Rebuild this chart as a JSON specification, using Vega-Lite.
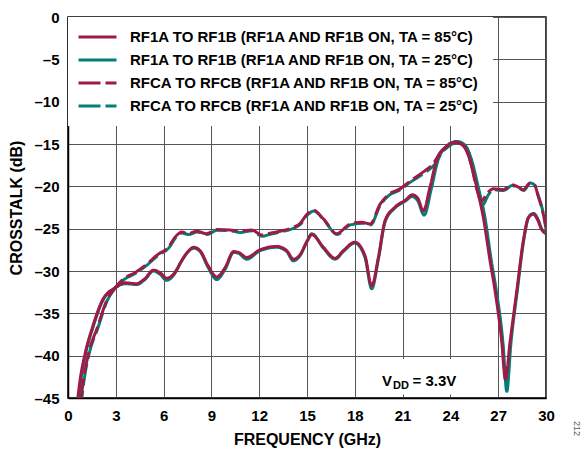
{
  "$schema": "https://vega.github.io/schema/vega-lite/v6.json",
  "width": 478,
  "height": 381,
  "autosize": {"type": "none"},
  "padding": {"left": 68, "top": 17, "right": 38, "bottom": 52},
  "background": "white",
  "config": {
    "font": "Liberation Sans",
    "view": {"stroke": "black", "strokeWidth": 1.5},
    "axis": {
      "labelFont": "Liberation Sans",
      "labelFontSize": 15,
      "labelFontWeight": "bold",
      "labelColor": "black",
      "titleFont": "Liberation Sans",
      "titleFontSize": 16,
      "titleFontWeight": "bold",
      "titleColor": "black",
      "domainColor": "black",
      "domainWidth": 1.5,
      "gridColor": "#555555",
      "gridWidth": 1,
      "gridOpacity": 1,
      "ticks": false
    }
  },
  "title": {"text": "212", "orient": "right", "anchor": "end", "frame": "group", "fontSize": 9, "fontWeight": "normal", "color": "#555555", "offset": 18, "dx": 38},
  "data": {
    "values": [
      {"s": "A", "f": 0.6, "d": -45.3}, {"s": "A", "f": 0.75, "d": -43.0}, {"s": "A", "f": 1.07, "d": -39.8}, {"s": "A", "f": 1.53, "d": -36.7}, {"s": "A", "f": 2.15, "d": -33.5}, {"s": "A", "f": 2.95, "d": -32.0}, {"s": "A", "f": 3.58, "d": -31.4}, {"s": "A", "f": 4.3, "d": -31.5}, {"s": "A", "f": 4.83, "d": -30.9}, {"s": "A", "f": 5.36, "d": -29.9}, {"s": "A", "f": 5.78, "d": -30.2}, {"s": "A", "f": 6.19, "d": -30.85}, {"s": "A", "f": 6.7, "d": -30.2}, {"s": "A", "f": 7.1, "d": -28.9}, {"s": "A", "f": 7.45, "d": -27.9}, {"s": "A", "f": 7.9, "d": -27.2}, {"s": "A", "f": 8.29, "d": -27.6}, {"s": "A", "f": 8.8, "d": -29.4}, {"s": "A", "f": 9.33, "d": -30.7}, {"s": "A", "f": 9.86, "d": -29.6}, {"s": "A", "f": 10.4, "d": -27.7}, {"s": "A", "f": 10.7, "d": -27.8}, {"s": "A", "f": 11.22, "d": -28.4}, {"s": "A", "f": 12.05, "d": -27.5}, {"s": "A", "f": 13.1, "d": -27.1}, {"s": "A", "f": 13.73, "d": -27.6}, {"s": "A", "f": 14.14, "d": -28.6}, {"s": "A", "f": 14.56, "d": -28.1}, {"s": "A", "f": 15.0, "d": -26.5}, {"s": "A", "f": 15.3, "d": -25.7}, {"s": "A", "f": 16.03, "d": -27.2}, {"s": "A", "f": 16.76, "d": -28.5}, {"s": "A", "f": 17.28, "d": -27.6}, {"s": "A", "f": 18.0, "d": -26.6}, {"s": "A", "f": 18.64, "d": -28.2}, {"s": "A", "f": 19.06, "d": -31.75}, {"s": "A", "f": 19.48, "d": -28.4}, {"s": "A", "f": 19.9, "d": -24.05}, {"s": "A", "f": 20.5, "d": -22.5}, {"s": "A", "f": 21.2, "d": -21.6}, {"s": "A", "f": 21.6, "d": -21.0}, {"s": "A", "f": 21.95, "d": -21.4}, {"s": "A", "f": 22.3, "d": -22.9}, {"s": "A", "f": 22.72, "d": -20.1}, {"s": "A", "f": 23.14, "d": -16.9}, {"s": "A", "f": 23.67, "d": -15.4}, {"s": "A", "f": 24.3, "d": -14.8}, {"s": "A", "f": 24.8, "d": -15.2}, {"s": "A", "f": 25.23, "d": -16.9}, {"s": "A", "f": 25.65, "d": -20.1}, {"s": "A", "f": 26.07, "d": -23.7}, {"s": "A", "f": 26.49, "d": -28.8}, {"s": "A", "f": 26.8, "d": -32.3}, {"s": "A", "f": 27.22, "d": -38.3}, {"s": "A", "f": 27.45, "d": -42.8}, {"s": "A", "f": 27.75, "d": -38.3}, {"s": "A", "f": 28.17, "d": -32.3}, {"s": "A", "f": 28.58, "d": -26.4}, {"s": "A", "f": 28.9, "d": -23.7}, {"s": "A", "f": 29.2, "d": -23.3}, {"s": "A", "f": 29.5, "d": -24.05}, {"s": "A", "f": 29.7, "d": -25.0}, {"s": "A", "f": 30.0, "d": -25.5},

      {"s": "B", "f": 0.65, "d": -45.3}, {"s": "B", "f": 0.8, "d": -43.0}, {"s": "B", "f": 1.1, "d": -39.8}, {"s": "B", "f": 1.56, "d": -36.7}, {"s": "B", "f": 2.18, "d": -33.5}, {"s": "B", "f": 2.95, "d": -32.0}, {"s": "B", "f": 3.58, "d": -31.5}, {"s": "B", "f": 4.3, "d": -31.6}, {"s": "B", "f": 4.83, "d": -31.0}, {"s": "B", "f": 5.36, "d": -30.0}, {"s": "B", "f": 5.78, "d": -30.4}, {"s": "B", "f": 6.19, "d": -31.1}, {"s": "B", "f": 6.7, "d": -30.3}, {"s": "B", "f": 7.1, "d": -28.9}, {"s": "B", "f": 7.45, "d": -27.9}, {"s": "B", "f": 7.9, "d": -27.3}, {"s": "B", "f": 8.29, "d": -27.7}, {"s": "B", "f": 8.8, "d": -29.6}, {"s": "B", "f": 9.33, "d": -31.0}, {"s": "B", "f": 9.86, "d": -29.8}, {"s": "B", "f": 10.4, "d": -27.8}, {"s": "B", "f": 10.7, "d": -27.9}, {"s": "B", "f": 11.22, "d": -28.6}, {"s": "B", "f": 12.05, "d": -27.6}, {"s": "B", "f": 13.1, "d": -27.2}, {"s": "B", "f": 13.73, "d": -27.7}, {"s": "B", "f": 14.14, "d": -28.8}, {"s": "B", "f": 14.56, "d": -28.2}, {"s": "B", "f": 15.0, "d": -26.5}, {"s": "B", "f": 15.3, "d": -25.6}, {"s": "B", "f": 16.03, "d": -27.3}, {"s": "B", "f": 16.76, "d": -28.6}, {"s": "B", "f": 17.28, "d": -27.7}, {"s": "B", "f": 18.0, "d": -26.7}, {"s": "B", "f": 18.64, "d": -28.4}, {"s": "B", "f": 19.06, "d": -32.1}, {"s": "B", "f": 19.48, "d": -28.6}, {"s": "B", "f": 19.9, "d": -24.2}, {"s": "B", "f": 20.5, "d": -22.6}, {"s": "B", "f": 21.2, "d": -21.7}, {"s": "B", "f": 21.6, "d": -21.2}, {"s": "B", "f": 21.95, "d": -21.7}, {"s": "B", "f": 22.35, "d": -23.4}, {"s": "B", "f": 22.8, "d": -20.3}, {"s": "B", "f": 23.22, "d": -16.9}, {"s": "B", "f": 23.75, "d": -15.3}, {"s": "B", "f": 24.4, "d": -14.7}, {"s": "B", "f": 24.9, "d": -15.1}, {"s": "B", "f": 25.33, "d": -16.9}, {"s": "B", "f": 25.75, "d": -20.1}, {"s": "B", "f": 26.17, "d": -23.7}, {"s": "B", "f": 26.57, "d": -28.8}, {"s": "B", "f": 26.88, "d": -32.3}, {"s": "B", "f": 27.3, "d": -38.5}, {"s": "B", "f": 27.54, "d": -44.2}, {"s": "B", "f": 27.8, "d": -38.5}, {"s": "B", "f": 28.2, "d": -32.3}, {"s": "B", "f": 28.6, "d": -26.4}, {"s": "B", "f": 28.92, "d": -23.6}, {"s": "B", "f": 29.22, "d": -23.2}, {"s": "B", "f": 29.52, "d": -24.0}, {"s": "B", "f": 29.72, "d": -25.0}, {"s": "B", "f": 30.0, "d": -25.6},

      {"s": "C", "f": 0.8, "d": -45.3}, {"s": "C", "f": 0.96, "d": -43.0}, {"s": "C", "f": 1.28, "d": -39.8}, {"s": "C", "f": 1.84, "d": -36.7}, {"s": "C", "f": 2.43, "d": -33.5}, {"s": "C", "f": 2.95, "d": -32.0}, {"s": "C", "f": 3.54, "d": -30.85}, {"s": "C", "f": 4.2, "d": -30.2}, {"s": "C", "f": 4.94, "d": -29.2}, {"s": "C", "f": 5.67, "d": -28.0}, {"s": "C", "f": 6.3, "d": -27.2}, {"s": "C", "f": 6.72, "d": -26.0}, {"s": "C", "f": 7.14, "d": -25.4}, {"s": "C", "f": 7.55, "d": -25.6}, {"s": "C", "f": 8.08, "d": -25.3}, {"s": "C", "f": 8.7, "d": -25.6}, {"s": "C", "f": 9.33, "d": -25.1}, {"s": "C", "f": 10.17, "d": -25.15}, {"s": "C", "f": 10.8, "d": -25.3}, {"s": "C", "f": 11.53, "d": -25.15}, {"s": "C", "f": 12.16, "d": -25.75}, {"s": "C", "f": 12.68, "d": -25.55}, {"s": "C", "f": 13.3, "d": -25.3}, {"s": "C", "f": 14.14, "d": -24.85}, {"s": "C", "f": 14.56, "d": -24.4}, {"s": "C", "f": 15.0, "d": -23.3}, {"s": "C", "f": 15.4, "d": -22.8}, {"s": "C", "f": 16.03, "d": -23.85}, {"s": "C", "f": 16.87, "d": -25.6}, {"s": "C", "f": 17.7, "d": -24.45}, {"s": "C", "f": 18.44, "d": -24.25}, {"s": "C", "f": 18.96, "d": -24.45}, {"s": "C", "f": 19.59, "d": -22.1}, {"s": "C", "f": 20.1, "d": -21.0}, {"s": "C", "f": 20.84, "d": -20.3}, {"s": "C", "f": 21.47, "d": -19.4}, {"s": "C", "f": 22.3, "d": -18.3}, {"s": "C", "f": 22.93, "d": -17.3}, {"s": "C", "f": 23.46, "d": -15.8}, {"s": "C", "f": 23.87, "d": -15.2}, {"s": "C", "f": 24.4, "d": -14.8}, {"s": "C", "f": 24.92, "d": -15.4}, {"s": "C", "f": 25.34, "d": -17.7}, {"s": "C", "f": 25.65, "d": -20.3}, {"s": "C", "f": 25.97, "d": -21.7}, {"s": "C", "f": 26.28, "d": -20.9}, {"s": "C", "f": 26.7, "d": -20.3}, {"s": "C", "f": 27.33, "d": -20.4}, {"s": "C", "f": 27.85, "d": -19.8}, {"s": "C", "f": 28.27, "d": -20.1}, {"s": "C", "f": 28.58, "d": -20.4}, {"s": "C", "f": 29.0, "d": -19.6}, {"s": "C", "f": 29.3, "d": -19.9}, {"s": "C", "f": 29.5, "d": -21.1}, {"s": "C", "f": 29.73, "d": -22.5}, {"s": "C", "f": 30.0, "d": -24.8},

      {"s": "D", "f": 0.85, "d": -45.3}, {"s": "D", "f": 1.0, "d": -43.0}, {"s": "D", "f": 1.32, "d": -39.8}, {"s": "D", "f": 1.88, "d": -36.7}, {"s": "D", "f": 2.46, "d": -33.5}, {"s": "D", "f": 2.97, "d": -32.0}, {"s": "D", "f": 3.56, "d": -30.95}, {"s": "D", "f": 4.22, "d": -30.3}, {"s": "D", "f": 4.96, "d": -29.3}, {"s": "D", "f": 5.69, "d": -28.1}, {"s": "D", "f": 6.32, "d": -27.3}, {"s": "D", "f": 6.74, "d": -26.1}, {"s": "D", "f": 7.16, "d": -25.5}, {"s": "D", "f": 7.57, "d": -25.7}, {"s": "D", "f": 8.1, "d": -25.4}, {"s": "D", "f": 8.72, "d": -25.7}, {"s": "D", "f": 9.35, "d": -25.2}, {"s": "D", "f": 10.19, "d": -25.25}, {"s": "D", "f": 10.82, "d": -25.45}, {"s": "D", "f": 11.55, "d": -25.25}, {"s": "D", "f": 12.18, "d": -25.9}, {"s": "D", "f": 12.7, "d": -25.65}, {"s": "D", "f": 13.32, "d": -25.4}, {"s": "D", "f": 14.16, "d": -24.95}, {"s": "D", "f": 14.58, "d": -24.5}, {"s": "D", "f": 15.02, "d": -23.4}, {"s": "D", "f": 15.42, "d": -22.9}, {"s": "D", "f": 16.05, "d": -23.95}, {"s": "D", "f": 16.89, "d": -25.7}, {"s": "D", "f": 17.72, "d": -24.55}, {"s": "D", "f": 18.46, "d": -24.35}, {"s": "D", "f": 18.98, "d": -24.55}, {"s": "D", "f": 19.61, "d": -22.2}, {"s": "D", "f": 20.12, "d": -21.1}, {"s": "D", "f": 20.86, "d": -20.4}, {"s": "D", "f": 21.49, "d": -19.5}, {"s": "D", "f": 22.32, "d": -18.5}, {"s": "D", "f": 22.97, "d": -17.5}, {"s": "D", "f": 23.52, "d": -15.9}, {"s": "D", "f": 23.95, "d": -15.2}, {"s": "D", "f": 24.5, "d": -14.8}, {"s": "D", "f": 25.0, "d": -15.4}, {"s": "D", "f": 25.42, "d": -17.7}, {"s": "D", "f": 25.73, "d": -20.5}, {"s": "D", "f": 26.03, "d": -22.2}, {"s": "D", "f": 26.35, "d": -21.1}, {"s": "D", "f": 26.72, "d": -20.4}, {"s": "D", "f": 27.35, "d": -20.5}, {"s": "D", "f": 27.87, "d": -19.9}, {"s": "D", "f": 28.29, "d": -20.2}, {"s": "D", "f": 28.6, "d": -20.5}, {"s": "D", "f": 29.02, "d": -19.6}, {"s": "D", "f": 29.32, "d": -19.9}, {"s": "D", "f": 29.53, "d": -21.2}, {"s": "D", "f": 29.76, "d": -22.6}, {"s": "D", "f": 30.0, "d": -25.0}
    ]
  },
  "transform": [
    {"calculate": "datum.s === 'A' ? 'RF1A TO RF1B (RF1A AND RF1B ON, TA = 85°C)' : datum.s === 'B' ? 'RF1A TO RF1B (RF1A AND RF1B ON, TA = 25°C)' : datum.s === 'C' ? 'RFCA TO RFCB (RF1A AND RF1B ON, TA = 85°C)' : 'RFCA TO RFCB (RF1A AND RF1B ON, TA = 25°C)'", "as": "series"}
  ],
  "encoding": {
    "x": {"field": "f", "type": "quantitative", "scale": {"domain": [0, 30], "nice": false, "zero": false},
      "axis": {"values": [0, 3, 6, 9, 12, 15, 18, 21, 24, 27, 30], "title": "FREQUENCY (GHz)", "labelPadding": 10, "titlePadding": 8, "labelFlush": false}},
    "y": {"field": "d", "type": "quantitative", "scale": {"domain": [-45, 0], "nice": false, "zero": false},
      "axis": {"values": [0, -5, -10, -15, -20, -25, -30, -35, -40, -45], "title": "CROSSTALK (dB)", "labelPadding": 9, "titlePadding": 9, "labelFlush": false, "labelExpr": "datum.value < 0 ? '–' + abs(datum.value) : datum.label"}}
  },
  "layer": [
    {
      "transform": [{"filter": "datum.s === 'B' || datum.s === 'D'"}],
      "mark": {"type": "line", "strokeWidth": 3, "clip": true, "interpolate": "monotone", "strokeDashOffset": 12},
      "encoding": {
        "color": {"field": "series", "type": "nominal", "sort": null,
          "scale": {"domain": ["RF1A TO RF1B (RF1A AND RF1B ON, TA = 85°C)", "RF1A TO RF1B (RF1A AND RF1B ON, TA = 25°C)", "RFCA TO RFCB (RF1A AND RF1B ON, TA = 85°C)", "RFCA TO RFCB (RF1A AND RF1B ON, TA = 25°C)"], "range": ["#9E1A47", "#008076", "#9E1A47", "#008076"]},
          "legend": {"title": null, "orient": "none", "legendX": 0, "legendY": 0, "fillColor": "white", "padding": 12, "labelFontSize": 15, "labelFontWeight": "bold", "labelColor": "black", "labelLimit": 600, "symbolType": "M-1.46,0H4.385", "symbolStrokeWidth": 3, "symbolSize": 169, "labelOffset": 34, "rowPadding": 7}},
        "strokeDash": {"field": "series", "type": "nominal", "sort": null,
          "scale": {"domain": ["RF1A TO RF1B (RF1A AND RF1B ON, TA = 85°C)", "RF1A TO RF1B (RF1A AND RF1B ON, TA = 25°C)", "RFCA TO RFCB (RF1A AND RF1B ON, TA = 85°C)", "RFCA TO RFCB (RF1A AND RF1B ON, TA = 25°C)"], "range": [[1, 0], [1, 0], [22, 5], [22, 5]]},
          "legend": {"title": null, "orient": "none", "legendX": 0, "legendY": 0, "fillColor": "white", "padding": 12, "labelFontSize": 15, "labelFontWeight": "bold", "labelColor": "black", "labelLimit": 600, "symbolType": "M-1.46,0H4.385", "symbolStrokeWidth": 3, "symbolSize": 169, "labelOffset": 34, "rowPadding": 7}}
      }
    },
    {
      "transform": [{"filter": "datum.s === 'A' || datum.s === 'C'"}],
      "mark": {"type": "line", "strokeWidth": 3, "clip": true, "interpolate": "monotone"},
      "encoding": {
        "color": {"field": "series", "type": "nominal", "sort": null},
        "strokeDash": {"field": "series", "type": "nominal", "sort": null}
      }
    },
    {
      "data": {"values": [{"x1": 18.15, "x2": 25.55, "y1": -40.4, "y2": -44.6}]},
      "transform": [],
      "mark": {"type": "rect", "fill": "white"},
      "encoding": {
        "x": {"field": "x1", "type": "quantitative"},
        "x2": {"field": "x2"},
        "y": {"field": "y1", "type": "quantitative"},
        "y2": {"field": "y2"}
      }
    },
    {
      "data": {"values": [{"t": "V", "x": 19.7, "y": -43.6}]},
      "transform": [],
      "mark": {"type": "text", "fontSize": 15, "fontWeight": "bold", "align": "left", "baseline": "alphabetic", "color": "black"},
      "encoding": {"x": {"field": "x", "type": "quantitative"}, "y": {"field": "y", "type": "quantitative"}, "text": {"field": "t"}}
    },
    {
      "data": {"values": [{"t": "DD", "x": 20.4, "y": -43.6}]},
      "transform": [],
      "mark": {"type": "text", "fontSize": 11, "fontWeight": "bold", "align": "left", "baseline": "alphabetic", "dy": 3, "color": "black"},
      "encoding": {"x": {"field": "x", "type": "quantitative"}, "y": {"field": "y", "type": "quantitative"}, "text": {"field": "t"}}
    },
    {
      "data": {"values": [{"t": "= 3.3V", "x": 21.62, "y": -43.6}]},
      "transform": [],
      "mark": {"type": "text", "fontSize": 15, "fontWeight": "bold", "align": "left", "baseline": "alphabetic", "color": "black"},
      "encoding": {"x": {"field": "x", "type": "quantitative"}, "y": {"field": "y", "type": "quantitative"}, "text": {"field": "t"}}
    }
  ]
}
